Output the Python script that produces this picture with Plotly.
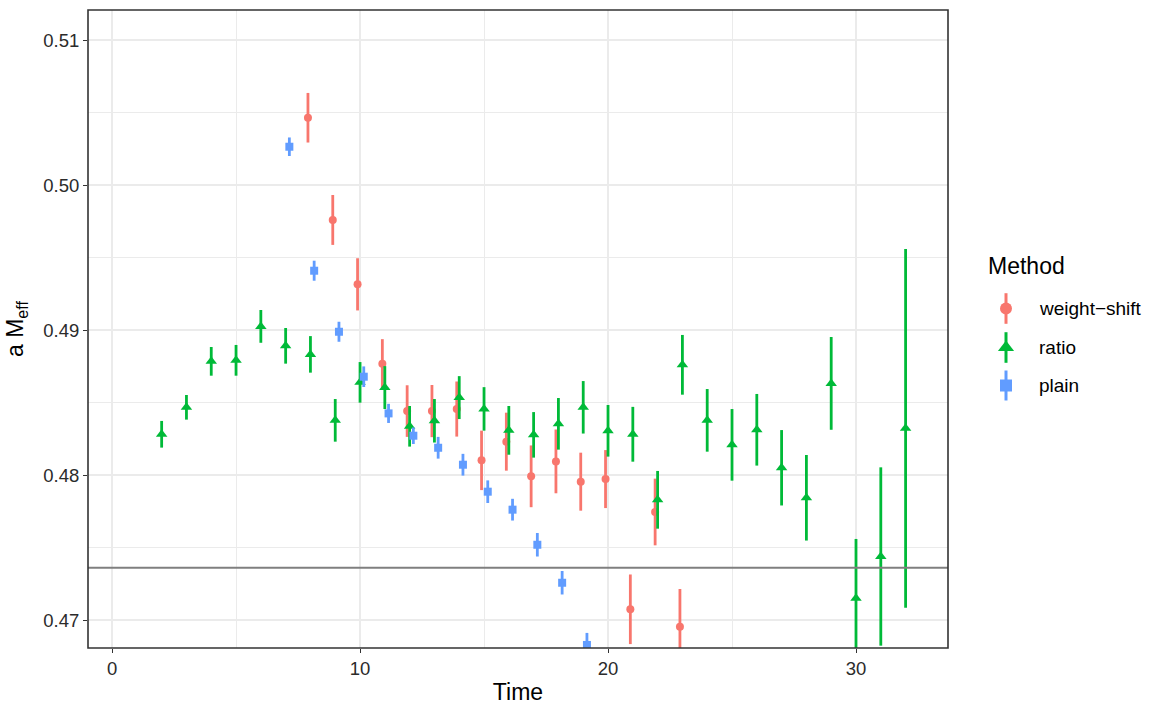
import plotly.graph_objects as go

# Effective-mass estimates per time slice, three extraction methods
t_ws = list(range(8, 24))
ws_val = [0.50464, 0.49759, 0.49315, 0.48768, 0.48441, 0.48441, 0.48455, 0.48101,
          0.48230, 0.47991, 0.48094, 0.47954, 0.47972, 0.47074, 0.47745, 0.46954]
ws_err = [0.00171, 0.00172, 0.00180, 0.00169, 0.00178, 0.00180, 0.00190, 0.00205,
          0.00200, 0.00213, 0.00220, 0.00200, 0.00200, 0.00240, 0.00230, 0.00260]

t_ratio = list(range(2, 33))
ratio_val = [0.48281, 0.48467, 0.48784, 0.48791, 0.49025, 0.48891, 0.48832, 0.48377,
             0.48639, 0.48603, 0.48336, 0.48374, 0.48534, 0.48456, 0.48308, 0.48277,
             0.48353, 0.48467, 0.48305, 0.48281, 0.47829, 0.48760, 0.48377, 0.48208,
             0.48312, 0.48050, 0.47843, 0.48632, 0.47150, 0.47438, 0.48322]
ratio_err = [0.00092, 0.00085, 0.00099, 0.00106, 0.00113, 0.00123, 0.00126, 0.00147,
             0.00140, 0.00148, 0.00140, 0.00150, 0.00148, 0.00150, 0.00168, 0.00157,
             0.00178, 0.00181, 0.00178, 0.00189, 0.00199, 0.00206, 0.00216, 0.00247,
             0.00247, 0.00260, 0.00295, 0.00320, 0.00409, 0.00615, 0.01237]

t_plain = list(range(7, 20))
plain_val = [0.50264, 0.49409, 0.48988, 0.48678, 0.48425, 0.48271, 0.48188, 0.48071,
             0.47885, 0.47761, 0.47519, 0.47257, 0.46828]
plain_err = [0.00064, 0.00069, 0.00069, 0.00071, 0.00066, 0.00057, 0.00075, 0.00075,
             0.00078, 0.00075, 0.00081, 0.00081, 0.00083]

reference_mass = 0.4736

methods = ["weight\u2212shift", "ratio", "plain"]
colors = ["#F8766D", "#00BA38", "#619CFF"]
symbols = ["circle", "triangle-up", "square"]
sizes = [8, 10, 8]
key_sizes = [12, 14, 12]
dodge = [-0.1, 0.0, 0.15]

W, H = 1152, 708
L, R, T, B = 88, 948, 10, 648
FONT = "Liberation Sans, Arial, sans-serif"

fig = go.Figure()

series = [(t_ws, ws_val, ws_err), (t_ratio, ratio_val, ratio_err), (t_plain, plain_val, plain_err)]
for (t, v, e), name, col, sym, sz, dx in zip(series, methods, colors, symbols, sizes, dodge):
    fig.add_trace(go.Scatter(
        x=[ti + dx for ti in t], y=v, mode="markers", name=name,
        marker=dict(color=col, symbol=sym, size=sz, line=dict(width=0)),
        error_y=dict(type="data", array=e, visible=True, color=col, thickness=2.8, width=0),
        showlegend=False, xaxis="x", yaxis="y",
    ))

fig.add_shape(type="line", xref="x domain", yref="y", x0=0, x1=1,
              y0=reference_mass, y1=reference_mass, line=dict(color="#7F7F7F", width=2))

# panel border
fig.add_shape(type="rect", xref="x domain", yref="y domain", x0=0, x1=1, y0=0, y1=1,
              line=dict(color="#333333", width=1.6), layer="above")

# legend keys on a pixel-space overlay axis
key_x = 1006
key_y = [308.5, 347.5, 385.5]
key_half = [15.3, 15.3, 15.0]
for name, col, sym, ks, ky, kh in zip(methods, colors, symbols, key_sizes, key_y, key_half):
    fig.add_trace(go.Scatter(
        x=[key_x], y=[ky], mode="markers", xaxis="x2", yaxis="y2", showlegend=False,
        marker=dict(color=col, symbol=sym, size=ks, line=dict(width=0)),
        error_y=dict(type="data", array=[kh], visible=True, color=col, thickness=3, width=0),
        hoverinfo="skip",
    ))
    fig.add_annotation(x=1037 / W, y=1 - ky / H, xref="paper", yref="paper",
                       text=name, showarrow=False, xanchor="left", yanchor="middle",
                       font=dict(size=19, color="#000000"))

fig.add_annotation(x=986 / W, y=1 - 266 / H, xref="paper", yref="paper",
                   text="Method", showarrow=False, xanchor="left", yanchor="middle",
                   font=dict(size=23, color="#000000"))

axis_common = dict(
    showline=False, zeroline=False, ticks="outside", ticklen=4, tickwidth=1.4,
    tickcolor="#333333", gridcolor="#EBEBEB", gridwidth=1.9,
    tickfont=dict(size=18.5, color="#2B2B2B"),
)

fig.update_layout(
    width=W, height=H,
    margin=dict(l=0, r=0, t=0, b=0),
    paper_bgcolor="white", plot_bgcolor="rgba(0,0,0,0)",
    font=dict(family=FONT, color="#000000"),
    xaxis=dict(
        domain=[L / W, R / W], range=[-0.97, 33.71], tickvals=[0, 10, 20, 30],
        minor=dict(tickvals=[5, 15, 25], showgrid=True, gridcolor="#EBEBEB", gridwidth=1.1, ticks=""),
        title=dict(text="Time", font=dict(size=23), standoff=5),
        anchor="y", **axis_common,
    ),
    yaxis=dict(
        domain=[1 - B / H, 1 - T / H], range=[0.46807, 0.51207],
        tickvals=[0.47, 0.48, 0.49, 0.50, 0.51], tickformat=".2f",
        minor=dict(tickvals=[0.475, 0.485, 0.495, 0.505], showgrid=True,
                   gridcolor="#EBEBEB", gridwidth=1.1, ticks=""),
        title=dict(text="a M<sub>eff</sub>", font=dict(size=23), standoff=13),
        anchor="x", **axis_common,
    ),
    xaxis2=dict(domain=[0, 1], range=[0, W], visible=False, anchor="y2", fixedrange=True),
    yaxis2=dict(domain=[0, 1], range=[H, 0], visible=False, anchor="x2", fixedrange=True),
)

fig.write_html("out.html")
